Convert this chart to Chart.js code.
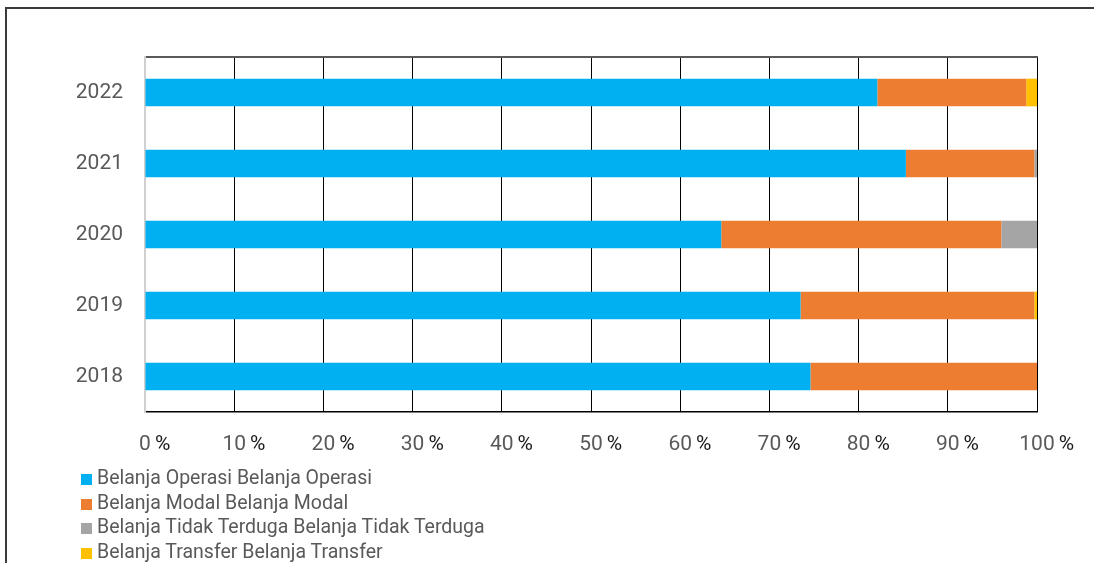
<!DOCTYPE html>
<html>
<head>
<meta charset="utf-8">
<script src="https://cdn.jsdelivr.net/npm/chart.js@4/dist/chart.umd.min.js"></script>
<style>
    body { margin: 0; background: #fff; }
    #wrap { position: relative; width: 1094px; height: 563px; overflow: hidden; }
    #frame { position: absolute; left: 5px; top: 7px; width: 1200px; height: 700px; border: 2px solid #3a3a3a; }
    #myChart { position: absolute; left: 0; top: 0; }
    #legend { position: absolute; left: 81px; top: 466px; font-family: Roboto, sans-serif; font-size: 19.5px; color: #595959; }
    #legend div { height: 24.7px; line-height: 24.7px; white-space: nowrap; }
    #legend span { display: inline-block; width: 11px; height: 11px; margin-right: 5px; vertical-align: -1px; }
</style>
</head>
<body>
<div id="wrap">
    <div id="frame"></div>
    <canvas id="myChart" width="1094" height="563"></canvas>
    <div id="legend"></div>
</div>
<script>
// years, oldest first (axis is reversed so 2022 sits on top)
var years = ['2018', '2019', '2020', '2021', '2022'];

// share of total spending, percent
var belanjaOperasi = [74.6, 73.5, 64.6, 85.3, 82.1];
var belanjaModal = [25.4, 26.2, 31.4, 14.4, 16.7];
var belanjaTidakTerduga = [0, 0, 4.0, 0.3, 0];
var belanjaTransfer = [0, 0.3, 0, 0, 1.2];

var xTicks = [0, 10, 20, 30, 40, 50, 60, 70, 80, 90, 100];

var seriesNames = [
    'Belanja Operasi Belanja Operasi',
    'Belanja Modal Belanja Modal',
    'Belanja Tidak Terduga Belanja Tidak Terduga',
    'Belanja Transfer Belanja Transfer'
];
var seriesColors = ['#00B0F0', '#ED7D31', '#A5A5A5', '#FFC000'];
var seriesData = [belanjaOperasi, belanjaModal, belanjaTidakTerduga, belanjaTransfer];

var datasets = [];
seriesData.forEach(function (values, i) {
    datasets.push({
        label: seriesNames[i],
        data: values,
        backgroundColor: seriesColors[i],
        borderWidth: 0,
        barPercentage: 0.39,
        categoryPercentage: 1
    });
});

// x labels: number in grey, "%" in black, like the original
var percentLabels = {
    id: 'percentLabels',
    afterDraw: function (chart) {
        var ctx = chart.ctx;
        var scale = chart.scales.x;
        var y = chart.chartArea.bottom + 33;
        ctx.save();
        ctx.font = '21px Roboto, sans-serif';
        ctx.textBaseline = 'middle';
        xTicks.forEach(function (v) {
            var x = scale.getPixelForValue(v);
            var num = String(v);
            var w = ctx.measureText(num).width;
            ctx.textAlign = 'center';
            ctx.fillStyle = '#595959';
            ctx.fillText(num, x, y);
            ctx.textAlign = 'left';
            ctx.fillStyle = '#1a1a1a';
            ctx.fillText('%', x + w / 2 + 4, y);
        });
        ctx.restore();
    }
};

var ctx = document.getElementById('myChart').getContext('2d');
var myChart = new Chart(ctx, {
    type: 'bar',
    data: {
        labels: years,
        datasets: datasets
    },
    options: {
        indexAxis: 'y',
        responsive: false,
        animation: false,
        layout: { padding: { left: 0, top: 57, right: 57, bottom: 0 } },
        plugins: {
            legend: { display: false },
            tooltip: { enabled: false }
        },
        scales: {
            x: {
                stacked: true,
                min: 0,
                max: 100,
                ticks: { display: false, stepSize: 10 },
                grid: {
                    drawTicks: false,
                    color: function (c) { return c.tick && c.tick.value === 0 ? 'rgba(0,0,0,0)' : '#000'; },
                    lineWidth: 1
                },
                border: { color: '#000', width: 1.5 },
                afterFit: function (scale) { scale.height = 151; }
            },
            x2: {
                position: 'top',
                min: 0,
                max: 100,
                ticks: { display: false },
                grid: { display: false, drawTicks: false },
                border: { color: '#595959', width: 2 },
                afterFit: function (scale) { scale.height = 0; }
            },
            y: {
                stacked: true,
                reverse: true,
                grid: { display: false, drawTicks: false },
                border: { color: '#d0d0d0', width: 2 },
                ticks: {
                    color: '#595959',
                    font: { family: 'Roboto', size: 21 },
                    padding: 22
                },
                afterFit: function (scale) { scale.width = 145; }
            }
        }
    },
    plugins: [percentLabels]
});

// legend, one entry per line
var legendHtml = '';
myChart.data.datasets.forEach(function (ds) {
    legendHtml += '<div><span style="background:' + ds.backgroundColor + '"></span>' + ds.label + '</div>';
});
document.getElementById('legend').innerHTML = legendHtml;
</script>
</body>
</html>
